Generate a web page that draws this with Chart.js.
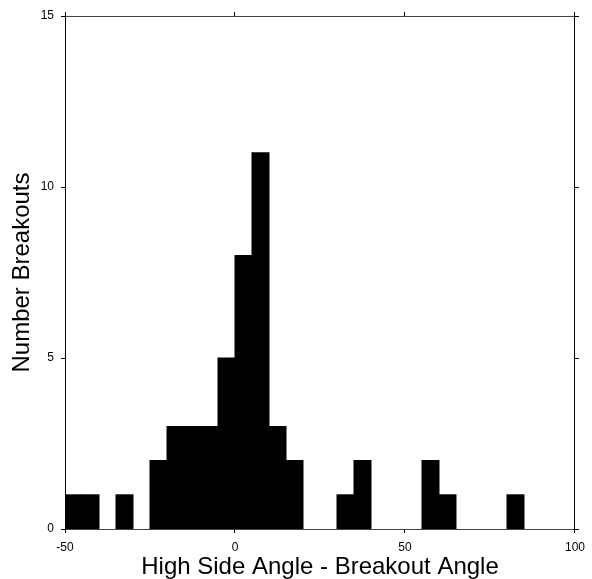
<!DOCTYPE html>
<html>
<head>
<meta charset="utf-8">
<script src="https://cdn.jsdelivr.net/npm/chart.js@4/dist/chart.umd.min.js"></script>
<style>
  html, body { margin: 0; padding: 0; background: #fff; }
  #chart { display: block; }
</style>
</head>
<body>
<canvas id="chart" width="592" height="579"></canvas>
<script>
// histogram bins, 5 degrees wide, left edges
const binStarts = [-50, -45, -40, -35, -30, -25, -20, -15, -10, -5, 0, 5, 10, 15, 20, 25, 30, 35, 40, 45, 50, 55, 60, 65, 70, 75, 80, 85, 90, 95];
const counts    = [  1,   1,   0,   1,   0,   2,   3,   3,   3,  5, 8, 11, 3,  2,  0,  0,  1,  2,  0,  0,  0,  2,  1,  0,  0,  0,  1,  0,  0,  0];
const binWidth = 5;
const xTicks = [-50, 0, 50, 100];
const yTicks = [0, 5, 10, 15];

const font = "'Liberation Sans', Arial, Helvetica, sans-serif";

const points = binStarts.map((s, i) => ({ x: s + binWidth / 2, y: counts[i] }));

function fixedTicks(values) {
  return (scale) => { scale.ticks = values.map(v => ({ value: v })); };
}

new Chart(document.getElementById("chart"), {
  type: "bar",
  data: {
    datasets: [{
      data: points,
      backgroundColor: "#000",
      borderWidth: 0,
      barPercentage: 1,
      categoryPercentage: 1,
      inflateAmount: (ctx) => (ctx.raw && ctx.raw.y ? 0.5 : 0),
      xAxisID: "x",
      yAxisID: "y",
    }],
  },
  options: {
    responsive: false,
    animation: false,
    layout: { padding: 0 },
    plugins: { legend: { display: false }, tooltip: { enabled: false } },
    scales: {
      x: {
        type: "linear",
        position: "bottom",
        offset: false,
        min: -50,
        max: 100,
        afterBuildTicks: fixedTicks(xTicks),
        afterFit: (s) => { s.height = 50; },
        grid: { offset: false, drawOnChartArea: false, tickLength: 4, tickColor: "#000" },
        border: { color: "#444", width: 1 },
        ticks: { color: "#000", padding: 7, font: { family: font, size: 12 } },
        title: {
          display: true,
          text: "High Side Angle - Breakout Angle",
          color: "#000",
          font: { family: font, size: 24, lineHeight: 1 },
          padding: { top: 0, bottom: 0 },
        },
      },
      x2: {
        type: "linear",
        position: "top",
        offset: false,
        min: -50,
        max: 100,
        afterBuildTicks: fixedTicks(xTicks),
        afterFit: (s) => { s.height = 16; },
        grid: { offset: false, drawOnChartArea: false, tickLength: 4, tickColor: "#000" },
        border: { color: "#444", width: 1 },
        ticks: { display: false },
      },
      y: {
        type: "linear",
        position: "left",
        min: 0,
        max: 15,
        afterBuildTicks: fixedTicks(yTicks),
        afterFit: (s) => { s.width = 65; },
        grid: { drawOnChartArea: false, tickLength: 4, tickColor: "#000" },
        border: { color: "#000", width: 1 },
        ticks: { color: "#000", padding: 7, font: { family: font, size: 12 } },
        title: {
          display: true,
          text: "Number Breakouts",
          color: "#000",
          font: { family: font, size: 24, lineHeight: 1 },
          padding: { top: 10, bottom: 0 },
        },
      },
      y2: {
        type: "linear",
        position: "right",
        min: 0,
        max: 15,
        afterBuildTicks: fixedTicks(yTicks),
        afterFit: (s) => { s.width = 15; },
        grid: { drawOnChartArea: false, tickLength: 4, tickColor: "#000" },
        border: { color: "#000", width: 1 },
        ticks: { display: false },
      },
    },
  },
});
</script>
</body>
</html>
